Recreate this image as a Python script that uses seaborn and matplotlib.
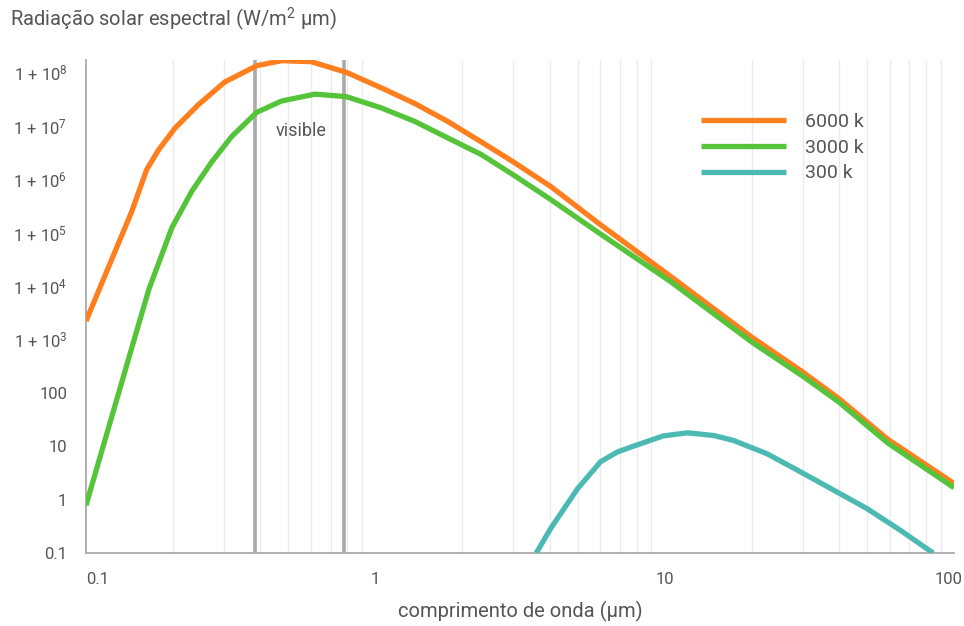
import numpy as np
import pandas as pd
import seaborn as sns
import matplotlib
matplotlib.use("Agg")
from matplotlib import pyplot as plt
from matplotlib.lines import Line2D
from matplotlib.ticker import FixedLocator, NullFormatter
from matplotlib.transforms import ScaledTranslation

# Dados (comprimento de onda em um, radiacao em W/m2 um)
x_6000 = [0.1, 0.144, 0.162, 0.178, 0.203, 0.245, 0.302, 0.389, 0.474, 0.6, 0.794,
          1.05, 1.37, 1.78, 2.32, 3.0, 4.05, 5.9, 10.5, 20, 30, 40, 59, 100]
y_6000 = [2200, 2.5e5, 1.5e6, 3.5e6, 9e6, 2.5e7, 6.6e7, 1.33e8, 1.65e8, 1.58e8, 1.0e8,
          5.1e7, 2.6e7, 1.2e7, 5.0e6, 2.1e6, 7.2e5, 1.5e5, 1.5e4, 1100, 245, 78, 13.5, 2.0]

x_3000 = [0.1, 0.144, 0.165, 0.198, 0.232, 0.272, 0.319, 0.389, 0.474, 0.618, 0.794,
          1.05, 1.37, 1.78, 2.32, 3.0, 4.05, 5.9, 10.5, 20, 30, 40, 59, 100]
y_3000 = [0.78, 700, 8.7e3, 1.23e5, 5.9e5, 2.1e6, 6.3e6, 1.78e7, 2.9e7, 3.9e7, 3.5e7,
          2.15e7, 1.2e7, 5.9e6, 2.9e6, 1.2e6, 4.1e5, 1.0e5, 1.2e4, 890, 205, 67, 11.5, 1.67]

x_300 = [3.6, 4.04, 5.0, 6.0, 6.87, 7.8, 9.9, 12, 14.8, 17.3, 22.6, 29.5, 38.4, 50, 65, 84.7]
y_300 = [0.1, 0.29, 1.6, 5.1, 7.8, 10, 15.6, 17.8, 15.8, 12.8, 7.2, 3.3, 1.5, 0.68, 0.27, 0.1]

series = ["6000 k", "3000 k", "300 k"]
cores = {"6000 k": "#ff7f1e", "3000 k": "#55c43a", "300 k": "#4cbab3"}

visivel = [0.385, 0.78]

y_ticks = [0.1, 1, 10, 100, 1e3, 1e4, 1e5, 1e6, 1e7, 1e8]
y_labels = ["0.1", "1", "10", "100"] + [r"1 + $10^{%d}$" % k for k in range(3, 9)]
x_ticks = [0.1, 1, 10, 100]
x_labels = ["0.1", "1", "10", "100"]

df = pd.concat([
    pd.DataFrame({"x": x_6000, "y": y_6000, "temp": "6000 k"}),
    pd.DataFrame({"x": x_3000, "y": y_3000, "temp": "3000 k"}),
    pd.DataFrame({"x": x_300, "y": y_300, "temp": "300 k"}),
])

sns.set_style("white")
plt.rcParams["font.family"] = ["Roboto", "DejaVu Sans"]
plt.rcParams["mathtext.default"] = "regular"

texto = "#555555"
cinza = "#aaaaaa"

fig = plt.figure(figsize=(9.64, 6.26), dpi=100)
ax = fig.add_axes([86 / 964, 1 - 553 / 626, 868 / 964, 493 / 626])

ax.set_xscale("log")
ax.set_yscale("log")
ax.set_xlim(0.1, 100)
ax.set_ylim(0.1, 1.7e8)

# grade vertical fina nos valores 2..9 de cada decada
minor = [m * 10.0 ** d for d in range(-1, 2) for m in range(2, 10)]
for v in minor:
    ax.axvline(v, color="#ebebeb", lw=1, zorder=0)

# faixa visivel
for v in visivel:
    ax.axvline(v, color=cinza, lw=2.6, zorder=1)
ax.text(0.556, 8e6, "visible", fontsize=13, color=texto, ha="center", va="center")

sns.lineplot(data=df, x="x", y="y", hue="temp", palette=cores, hue_order=series,
             lw=3.8, ax=ax, sort=False, legend=False, solid_capstyle="butt", zorder=3)

# eixos
for s in ["top", "right"]:
    ax.spines[s].set_visible(False)
for s in ["left", "bottom"]:
    ax.spines[s].set_color(cinza)
    ax.spines[s].set_linewidth(1.3)

ax.yaxis.set_major_locator(FixedLocator(y_ticks))
ax.set_yticklabels(y_labels)
ax.yaxis.set_minor_locator(FixedLocator([]))
ax.xaxis.set_major_locator(FixedLocator(x_ticks))
ax.set_xticklabels(x_labels)
ax.xaxis.set_minor_formatter(NullFormatter())
ax.tick_params(axis="both", which="major", direction="in", length=5, width=1,
               color=cinza, labelsize=12, labelcolor=texto)
ax.tick_params(axis="y", pad=13.5)
ax.tick_params(axis="x", pad=14)
ax.tick_params(which="minor", length=0)

ax.set_xlabel("comprimento de onda (µm)", fontsize=14.5, color=texto, labelpad=10)
ax.set_ylabel("")
fig.text(10 / 964, 1 - 19 / 626, "Radiação solar espectral (W/m$^{2}$ µm)",
         fontsize=14.5, color=texto, ha="left", va="center")

handles = [Line2D([0], [0], color=cores[s], lw=3.8, solid_capstyle="butt") for s in series]
leg = ax.legend(handles, series, loc="upper left", bbox_to_anchor=(0.708, 0.893),
                frameon=False, fontsize=14, handlelength=4.42, handletextpad=0.93,
                labelspacing=0.4, borderpad=0, borderaxespad=0)
for t in leg.get_texts():
    t.set_color(texto)

fig.canvas.draw()
ticks = ax.xaxis.get_major_ticks()
ticks[0].label1.set_horizontalalignment("left")
ticks[-1].label1.set_horizontalalignment("right")
lab = ticks[-1].label1
lab.set_transform(lab.get_transform() + ScaledTranslation(0.09, 0, fig.dpi_scale_trans))

fig.savefig("out.png", dpi=100)
